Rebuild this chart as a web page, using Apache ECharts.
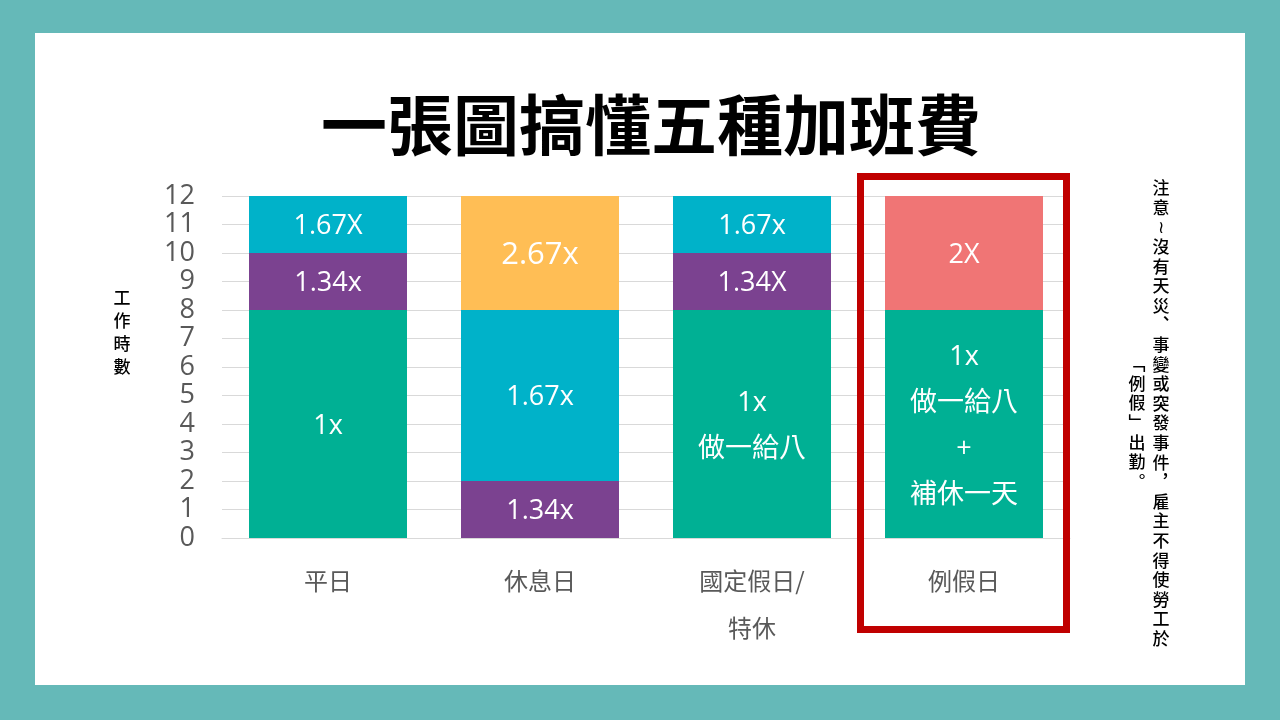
<!DOCTYPE html>
<html><head><meta charset="utf-8">
<script src="https://cdn.jsdelivr.net/npm/echarts@6/dist/echarts.min.js"></script>
<style>
html,body{margin:0;padding:0;background:#65b9b8;width:1280px;height:720px;overflow:hidden}
#panel{position:absolute;left:35px;top:33px;width:1210px;height:652px;background:#fff}
#chart{position:absolute;left:0;top:0;width:1280px;height:720px}
</style></head>
<body><div id="panel"></div><div id="chart"></div>
<script>
const categories = ['平日', '休息日', '國定假日/\n特休', '例假日'];
const yTicks = [0,1,2,3,4,5,6,7,8,9,10,11,12];
const v1x   = [8, null, 8, 8];
const v134  = [2, 2, 2, null];
const v167  = [2, 6, 2, null];
const v267  = [null, 4, null, null];
const v2x   = [null, null, null, 4];
const l1x   = ['1x', '', '1x\n做一給八', '1x\n做一給八\n+\n補休一天'];
const l134  = ['1.34x', '1.34x', '1.34X', ''];
const l167  = ['1.67X', '1.67x', '1.67x', ''];
const l267  = ['', '2.67x', '', ''];
const l2x   = ['', '', '', '2X'];
const title = '一張圖搞懂五種加班費';
const yName = '工作時數';
const note1 = '注意≀沒有天災︑事變或突發事件︐雇主不得使勞工於';
const note2 = '﹁例假﹂出勤︒';

const FF = '"Open Sans","Noto Sans CJK TC",sans-serif';
function mk(name, data, labels, color, fs) {
  return {
    name, type: 'bar', stack: 'h', data, barWidth: 158,
    itemStyle: { color },
    label: {
      show: true, position: 'inside', color: '#fff', fontFamily: FF,
      fontSize: fs || 27, lineHeight: 46, offset: [0, 2],
      formatter: p => labels[p.dataIndex]
    }
  };
}
const chart = echarts.init(document.getElementById('chart'), null, {renderer: 'canvas'});
chart.setOption({
  backgroundColor: 'transparent',
  animation: false,
  grid: { left: 222, right: 210, top: 196, bottom: 182 },
  xAxis: {
    type: 'category', data: categories,
    axisLine: { show: true, lineStyle: { color: '#d9d9d9' } },
    axisTick: { show: false },
    axisLabel: { color: '#595959', fontSize: 24, lineHeight: 47, margin: 19, fontFamily: '"Noto Sans CJK TC",sans-serif' }
  },
  yAxis: {
    type: 'value', min: yTicks[0], max: yTicks[yTicks.length - 1], interval: 1,
    axisLine: { show: false }, axisTick: { show: false },
    splitLine: { lineStyle: { color: '#d9d9d9', width: 1 } },
    axisLabel: { color: '#595959', fontSize: 27, margin: 27, fontFamily: FF }
  },
  series: [
    mk('1x', v1x, l1x, '#00b094'),
    mk('1.34x', v134, l134, '#7b4290'),
    mk('1.67x', v167, l167, '#00b2c9'),
    mk('2.67x', v267, l267, '#ffbe55', 31),
    mk('2x', v2x, l2x, '#f07575')
  ],
  graphic: [
    { type: 'text', x: 651, y: 125, style: { text: title, align: 'center', verticalAlign: 'middle', fill: '#000', font: 'bold 66px "Noto Sans CJK TC",sans-serif' } },
    { type: 'text', x: 122, y: 286, style: { text: yName.split('').join('\n'), align: 'center', verticalAlign: 'top', fill: '#000', fontSize: 17, fontWeight: 500, lineHeight: 23, fontFamily: '"Noto Sans CJK TC",sans-serif' } },
    { type: 'text', x: 1161, y: 178, style: { text: note1.split('').join('\n'), align: 'center', verticalAlign: 'top', fill: '#000', fontSize: 17, fontWeight: 500, lineHeight: 19.6, fontFamily: '"Noto Sans CJK TC",sans-serif' } },
    { type: 'text', x: 1137, y: 354, style: { text: note2.split('').join('\n'), align: 'center', verticalAlign: 'top', fill: '#000', fontSize: 17, fontWeight: 500, lineHeight: 19.6, fontFamily: '"Noto Sans CJK TC",sans-serif' } },
    { type: 'rect', shape: { x: 860.5, y: 176.5, width: 206, height: 453 }, style: { fill: 'none', stroke: '#c00000', lineWidth: 7 }, z: 100 }
  ]
});
</script></body></html>
